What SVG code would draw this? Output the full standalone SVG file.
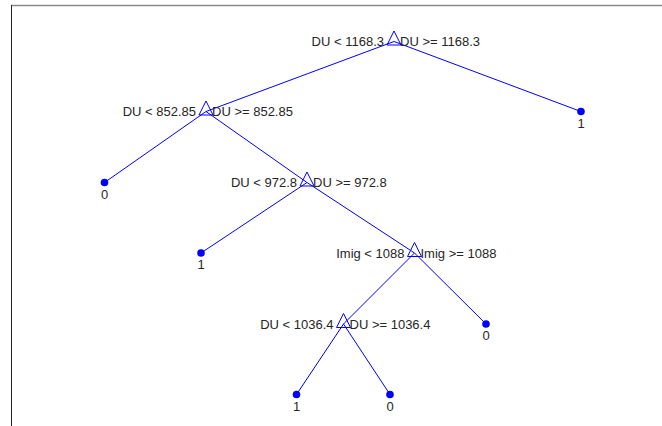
<svg xmlns="http://www.w3.org/2000/svg" width="662" height="426" viewBox="0 0 662 426">
  <style>
    .edge { stroke: #0000ff; stroke-width: 1; fill: none; }
    .split { stroke: #0000ff; stroke-width: 1; fill: none; }
    .leaf { fill: #0000ff; }
    text { font-family: "Liberation Sans", Arial, sans-serif; font-size: 13px; fill: #262626; }
    .l { text-anchor: end; }
    .r { text-anchor: start; }
    .c { text-anchor: middle; }
  </style>
  <defs>
    <!-- split marker: outline triangle centred on the node point -->
    <polygon id="tri" points="0,-10.5 -7,3.5 7,3.5" class="split"/>
    <circle id="dot" r="3.8" class="leaf"/>
  </defs>
  <rect x="0" y="0" width="662" height="426" fill="#ffffff"/>
  <!-- axes frame -->
  <line x1="11" y1="5.5" x2="662" y2="5.5" stroke="#8a8a8a" stroke-width="1.4"/>
  <line x1="11.5" y1="5" x2="11.5" y2="426" stroke="#222222" stroke-width="1"/>

  <g id="edges">
    <line class="edge" x1="394" y1="41.5" x2="206" y2="111.5"/>
    <line class="edge" x1="394" y1="41.5" x2="581" y2="111.5"/>
    <line class="edge" x1="206" y1="111.5" x2="104.5" y2="182.5"/>
    <line class="edge" x1="206" y1="111.5" x2="307" y2="182.5"/>
    <line class="edge" x1="307" y1="182.5" x2="201" y2="253"/>
    <line class="edge" x1="307" y1="182.5" x2="414.5" y2="253"/>
    <line class="edge" x1="414.5" y1="253" x2="343.5" y2="324"/>
    <line class="edge" x1="414.5" y1="253" x2="486" y2="324"/>
    <line class="edge" x1="343.5" y1="324" x2="296.5" y2="394.5"/>
    <line class="edge" x1="343.5" y1="324" x2="390" y2="394.5"/>
  </g>

  <g id="n1" transform="translate(394,41.5)">
    <use href="#tri"/>
    <text class="l" x="-10" y="4.6">DU &lt; 1168.3</text>
    <text class="r" x="6" y="4.6">DU &gt;= 1168.3</text>
  </g>
  <g id="n2" transform="translate(206,111.5)">
    <use href="#tri"/>
    <text class="l" x="-10" y="4.6">DU &lt; 852.85</text>
    <text class="r" x="6" y="4.6">DU &gt;= 852.85</text>
  </g>
  <g id="n3" transform="translate(581,111.5)">
    <use href="#dot"/>
    <text class="c" x="0" y="16">1</text>
  </g>
  <g id="n4" transform="translate(104.5,182.5)">
    <use href="#dot"/>
    <text class="c" x="0" y="16">0</text>
  </g>
  <g id="n5" transform="translate(307,182.5)">
    <use href="#tri"/>
    <text class="l" x="-10" y="4.6">DU &lt; 972.8</text>
    <text class="r" x="6" y="4.6">DU &gt;= 972.8</text>
  </g>
  <g id="n6" transform="translate(201,253)">
    <use href="#dot"/>
    <text class="c" x="0" y="16">1</text>
  </g>
  <g id="n7" transform="translate(414.5,253)">
    <use href="#tri"/>
    <text class="l" x="-10" y="4.6">Imig &lt; 1088</text>
    <text class="r" x="6" y="4.6">Imig &gt;= 1088</text>
  </g>
  <g id="n8" transform="translate(343.5,324)">
    <use href="#tri"/>
    <text class="l" x="-10" y="4.6">DU &lt; 1036.4</text>
    <text class="r" x="6" y="4.6">DU &gt;= 1036.4</text>
  </g>
  <g id="n9" transform="translate(486,324)">
    <use href="#dot"/>
    <text class="c" x="0" y="16">0</text>
  </g>
  <g id="n10" transform="translate(296.5,394.5)">
    <use href="#dot"/>
    <text class="c" x="0" y="16">1</text>
  </g>
  <g id="n11" transform="translate(390,394.5)">
    <use href="#dot"/>
    <text class="c" x="0" y="16">0</text>
  </g>
</svg>
